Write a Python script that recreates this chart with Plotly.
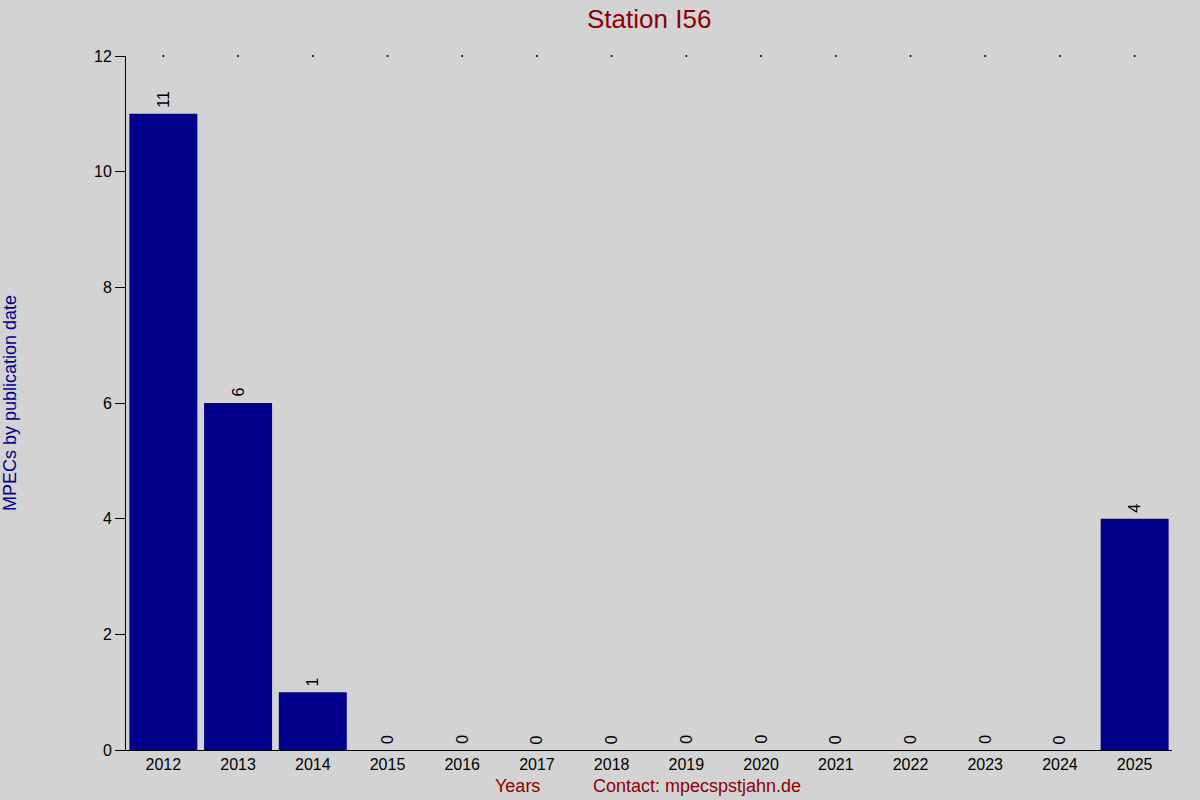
import plotly.graph_objects as go

years = ["2012", "2013", "2014", "2015", "2016", "2017", "2018", "2019",
         "2020", "2021", "2022", "2023", "2024", "2025"]
mpecs = [11, 6, 1, 0, 0, 0, 0, 0, 0, 0, 0, 0, 0, 4]
y_max = 12

fig = go.Figure()
fig.add_trace(go.Bar(x=years, y=mpecs, marker_color="#00008B", marker_line_width=0))
# small dots along the top edge
fig.add_trace(go.Scatter(x=years, y=[y_max] * len(years), mode="markers",
                         marker=dict(color="black", size=2), cliponaxis=False,
                         hoverinfo="skip"))

# value labels above bars, rotated (category index as x position)
for i, v in enumerate(mpecs):
    fig.add_annotation(x=i, y=v, text=str(v), textangle=-90, showarrow=False,
                       xanchor="center", yanchor="bottom", yshift=4,
                       font=dict(size=16, color="black"))

fig.update_layout(
    width=1200, height=800,
    paper_bgcolor="#D3D3D3", plot_bgcolor="#D3D3D3",
    font=dict(family="Liberation Sans, Arial, sans-serif", size=16, color="black"),
    margin=dict(l=126, r=28, t=56, b=50),
    showlegend=False, bargap=0.09,
    title=dict(text="Station I56", x=0.541, xanchor="center", y=0.977, yanchor="middle",
               font=dict(size=26, color="#8B0000")),
)
fig.update_xaxes(type="category", range=[-0.5, len(years) - 0.5], showline=True,
                 linecolor="black", linewidth=1, ticks="", showgrid=False, zeroline=False,
                 tickfont=dict(size=16))
fig.update_yaxes(range=[0, y_max], dtick=2, showline=True, linecolor="black", linewidth=1,
                 ticks="outside", ticklen=10, tickcolor="black", showgrid=False, zeroline=False,
                 tickfont=dict(size=16))

fig.add_annotation(text="MPECs by publication date", xref="paper", yref="paper",
                   x=-116 / 1046, y=0.5, textangle=-90, showarrow=False,
                   xanchor="center", yanchor="middle", font=dict(size=18, color="#00008B"))
fig.add_annotation(text="Years", xref="paper", yref="paper", x=(517 - 126) / 1046, y=-36 / 694,
                   showarrow=False, xanchor="center", yanchor="middle",
                   font=dict(size=18, color="#8B0000"))
fig.add_annotation(text="Contact: mpecspstjahn.de", xref="paper", yref="paper",
                   x=(697 - 126) / 1046, y=-36 / 694, showarrow=False, xanchor="center",
                   yanchor="middle", font=dict(size=18, color="#8B0000"))

fig.write_html("out.html", config={"displayModeBar": False},
               post_script="document.body.style.margin='0';")
